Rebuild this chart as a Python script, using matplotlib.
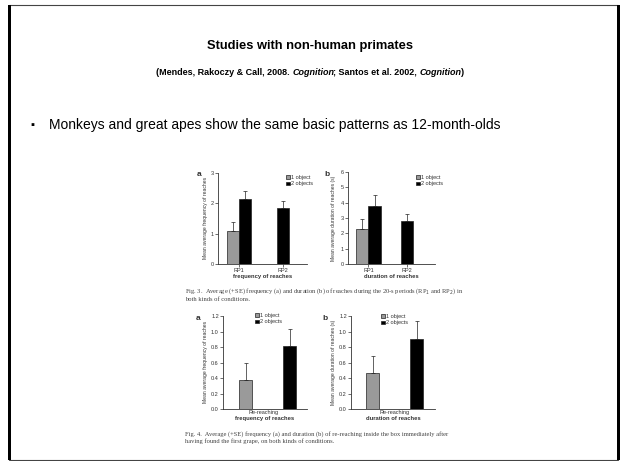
import matplotlib
matplotlib.use("Agg")
import matplotlib.pyplot as plt
from matplotlib.patches import Rectangle

plt.rcParams['font.family'] = ['Liberation Sans', 'DejaVu Sans']

W, H = 620, 461

# --- data ---
rp_labels = ['RP1', 'RP2']
freq_1obj = [1.1, None]
freq_1obj_se = [0.27, None]
freq_2obj = [2.15, 1.85]
freq_2obj_se = [0.27, 0.22]

dur_1obj = [2.3, None]
dur_1obj_se = [0.65, None]
dur_2obj = [3.8, 2.8]
dur_2obj_se = [0.7, 0.45]

rereach_freq = [0.38, 0.81]
rereach_freq_se = [0.21, 0.22]
rereach_dur = [0.47, 0.90]
rereach_dur_se = [0.22, 0.23]

legend_labels = ['1 object', '2 objects']
gray = '#9a9a9a'
ink = '#333333'

fig = plt.figure(figsize=(W / 100, H / 100), dpi=100)


def fx(x):
    return x / W


def fy(y):
    return 1 - y / H


# slide frame: thin gray top/bottom, thick black sides
fig.patches.append(Rectangle((fx(9), fy(460)), fx(609), 455 / H, transform=fig.transFigure,
                             fill=False, edgecolor='#444444', linewidth=0.8))
fig.patches.append(Rectangle((fx(617), fy(460)), fx(3), 455 / H, transform=fig.transFigure,
                             facecolor='black', edgecolor='none'))
fig.patches.append(Rectangle((fx(8), fy(460)), fx(3), 455 / H, transform=fig.transFigure,
                             facecolor='black', edgecolor='none'))

# title
fig.text(0.5, fy(46), 'Studies with non-human primates', ha='center', va='center',
         fontsize=9.3, fontweight='bold')

# subtitle with italic journal names
parts = [('(Mendes, Rakoczy & Call, 2008. ', 'normal'), ('Cognition', 'italic'),
         ('; Santos et al. 2002, ', 'normal'), ('Cognition', 'italic'), (')', 'normal')]
texts = []
for s, st in parts:
    texts.append(fig.text(0, fy(75), s, ha='left', va='baseline', fontsize=6.45,
                          fontweight='bold', fontstyle=st))
fig.canvas.draw()
r = fig.canvas.get_renderer()
widths = [t.get_window_extent(r).width - (1 if t.get_fontstyle() == 'italic' else 0)
          for t in texts]
x0 = (W - sum(widths)) / 2
for t, w in zip(texts, widths):
    t.set_x(x0 / W)
    x0 += w

# bullet
fig.text(fx(32), fy(125), '\u25aa', ha='center', va='center', fontsize=8)
fig.text(fx(49), fy(125), 'Monkeys and great apes show the same basic patterns as 12-month-olds',
         ha='left', va='center', fontsize=10)


def make_axes(x_left, x_right, y_top, y_bottom):
    ax = fig.add_axes([fx(x_left), fy(y_bottom), (x_right - x_left) / W, (y_bottom - y_top) / H])
    for s in ['top', 'right']:
        ax.spines[s].set_visible(False)
    for s in ['left', 'bottom']:
        ax.spines[s].set_color(ink)
        ax.spines[s].set_linewidth(0.6)
    ax.tick_params(colors=ink, labelsize=4, width=0.5, length=2, pad=1)
    return ax


def draw_bar(ax, x, v, e, color, w):
    if v is None:
        return None
    return ax.bar(x, v, w, color=color, edgecolor='#222222', linewidth=0.5,
                  yerr=[[0], [e]], capsize=1.2,
                  error_kw=dict(elinewidth=0.5, capthick=0.5, ecolor='#222222'))


def add_legend(ax, h1, h2, x, y):
    ax.legend([h1, h2], legend_labels, loc='upper left', bbox_to_anchor=(fx(x), fy(y)),
              bbox_transform=fig.transFigure, frameon=False, fontsize=4,
              handlelength=0.7, handleheight=0.7, handletextpad=0.3,
              labelspacing=0.3, borderpad=0, labelcolor=ink)


def ylabel(text, x, yc):
    fig.text(fx(x), fy(yc), text, rotation=90, ha='center', va='center',
             fontsize=3.6, color=ink)


# ---- Fig 3a ----
ax = make_axes(218, 307, 173, 264)
w = 0.28
idx = range(len(rp_labels))
h1 = h2 = None
for i in idx:
    off = w / 2 if freq_1obj[i] is not None else 0
    b = draw_bar(ax, i - off, freq_1obj[i], freq_1obj_se[i], gray, w)
    h1 = h1 or b
    h2 = draw_bar(ax, i + off, freq_2obj[i], freq_2obj_se[i], 'black', w) or h2
ax.set_xlim(-0.48, 1.55)
ax.set_ylim(0, 3)
ax.set_yticks([0, 1, 2, 3])
ax.set_xticks(list(idx))
ax.set_xticklabels(rp_labels)
ax.set_xlabel('frequency of reaches', fontsize=4.2, fontweight='bold', color=ink, labelpad=0.5)
add_legend(ax, h1, h2, 283, 172)
ylabel('Mean average frequency of reaches', 206, 218)
fig.text(fx(199), fy(175), 'a', fontsize=6, fontweight='bold', ha='center', va='center', color=ink)

# ---- Fig 3b ----
ax = make_axes(348, 435, 172, 264)
w = 0.32
h1 = h2 = None
for i in idx:
    off = w / 2 if dur_1obj[i] is not None else 0
    b = draw_bar(ax, i - off, dur_1obj[i], dur_1obj_se[i], gray, w)
    h1 = h1 or b
    h2 = draw_bar(ax, i + off, dur_2obj[i], dur_2obj_se[i], 'black', w) or h2
ax.set_xlim(-0.53, 1.73)
ax.set_ylim(0, 6)
ax.set_yticks(range(7))
ax.set_xticks(list(idx))
ax.set_xticklabels(rp_labels)
ax.set_xlabel('duration of reaches', fontsize=4.2, fontweight='bold', color=ink, labelpad=0.5)
add_legend(ax, h1, h2, 413, 172)
ylabel('Mean average duration of reaches (s)', 334, 218)
fig.text(fx(327), fy(174), 'b', fontsize=6, fontweight='bold', ha='center', va='center', color=ink)

cap3 = ('Fig. 3.  Average (+SE) frequency (a) and duration (b) of reaches during the 20-s periods (RP$_1$ and RP$_2$) in\n'
        'both kinds of conditions.')
fig.text(fx(185), fy(286), cap3, ha='left', va='top', fontsize=4.7, family='Liberation Serif',
         color='#444444', linespacing=1.4)

# ---- Fig 4a ----
ax = make_axes(223, 307, 316, 409)
w = 0.3
h1 = draw_bar(ax, -0.5, rereach_freq[0], rereach_freq_se[0], gray, w)
h2 = draw_bar(ax, 0.5, rereach_freq[1], rereach_freq_se[1], 'black', w)
ax.set_xlim(-1.02, 0.89)
ax.set_ylim(0, 1.2)
ax.set_yticks([0, 0.2, 0.4, 0.6, 0.8, 1.0, 1.2])
ax.set_yticklabels(['0.0', '0.2', '0.4', '0.6', '0.8', '1.0', '1.2'])
ax.set_xticks([-0.1])
ax.set_xticklabels(['Re-reaching'])
ax.tick_params(axis='x', length=0)
ax.set_xlabel('frequency of reaches', fontsize=4.2, fontweight='bold', color=ink, labelpad=0.5)
add_legend(ax, h1, h2, 252, 310)
ylabel('Mean average frequency of reaches', 205, 362)
fig.text(fx(198), fy(318), 'a', fontsize=6, fontweight='bold', ha='center', va='center', color=ink)

# ---- Fig 4b ----
ax = make_axes(351, 435, 316, 409)
h1 = draw_bar(ax, -0.5, rereach_dur[0], rereach_dur_se[0], gray, w)
h2 = draw_bar(ax, 0.5, rereach_dur[1], rereach_dur_se[1], 'black', w)
ax.set_xlim(-0.99, 0.92)
ax.set_ylim(0, 1.2)
ax.set_yticks([0, 0.2, 0.4, 0.6, 0.8, 1.0, 1.2])
ax.set_yticklabels(['0.0', '0.2', '0.4', '0.6', '0.8', '1.0', '1.2'])
ax.set_xticks([0])
ax.set_xticklabels(['Re-reaching'])
ax.tick_params(axis='x', length=0)
ax.set_xlabel('duration of reaches', fontsize=4.2, fontweight='bold', color=ink, labelpad=0.5)
add_legend(ax, h1, h2, 378, 311)
ylabel('Mean average duration of reaches (s)', 333, 362)
fig.text(fx(325), fy(318), 'b', fontsize=6, fontweight='bold', ha='center', va='center', color=ink)

cap4 = ('Fig. 4.  Average (+SE) frequency (a) and duration (b) of re-reaching inside the box immediately after\n'
        'having found the first grape, on both kinds of conditions.')
fig.text(fx(185), fy(431), cap4, ha='left', va='top', fontsize=4.7, family='Liberation Serif',
         color='#444444', linespacing=1.4)

fig.savefig('out.png', dpi=100)
